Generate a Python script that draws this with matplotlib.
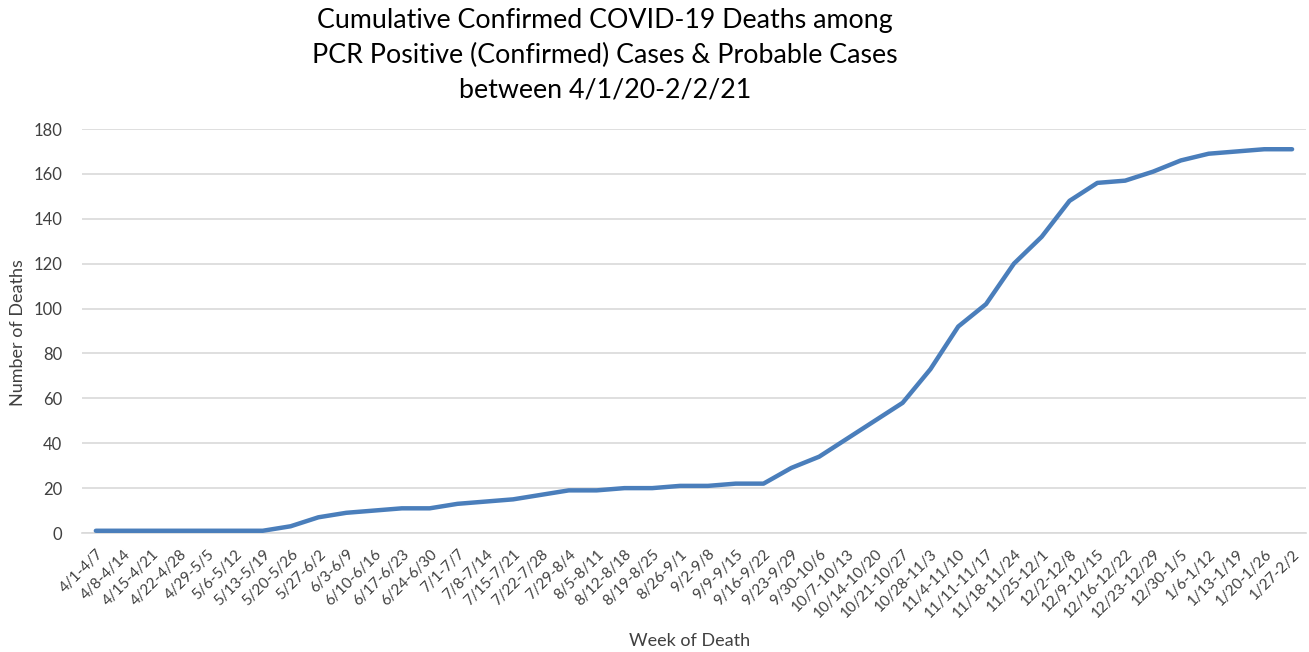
import numpy as np
import matplotlib
matplotlib.use('Agg')
import matplotlib.pyplot as plt

plt.rcParams['font.family'] = ['Lato', 'DejaVu Sans']

# weekly buckets (week of death)
weeks = ['4/1-4/7', '4/8-4/14', '4/15-4/21', '4/22-4/28', '4/29-5/5', '5/6-5/12',
         '5/13-5/19', '5/20-5/26', '5/27-6/2', '6/3-6/9', '6/10-6/16', '6/17-6/23',
         '6/24-6/30', '7/1-7/7', '7/8-7/14', '7/15-7/21', '7/22-7/28', '7/29-8/4',
         '8/5-8/11', '8/12-8/18', '8/19-8/25', '8/26-9/1', '9/2-9/8', '9/9-9/15',
         '9/16-9/22', '9/23-9/29', '9/30-10/6', '10/7-10/13', '10/14-10/20',
         '10/21-10/27', '10/28-11/3', '11/4-11/10', '11/11-11/17', '11/18-11/24',
         '11/25-12/1', '12/2-12/8', '12/9-12/15', '12/16-12/22', '12/23-12/29',
         '12/30-1/5', '1/6-1/12', '1/13-1/19', '1/20-1/26', '1/27-2/2']

# cumulative deaths
deaths = [1, 1, 1, 1, 1, 1, 1, 3, 7, 9, 10, 11, 11, 13, 14, 15, 17, 19, 19,
          20, 20, 21, 21, 22, 22, 29, 34, 42, 50, 58, 73, 92, 102, 120, 132,
          148, 156, 157, 161, 166, 169, 170, 171, 171]

yticks = [0, 20, 40, 60, 80, 100, 120, 140, 160, 180]

fig = plt.figure(figsize=(13.09, 6.52), dpi=100)
ax = fig.add_axes([0.0626, 0.1825, 0.9351, 0.6196])

x = np.arange(len(weeks))
ax.plot(x, deaths, color='#4a7ebb', linewidth=3.2, solid_capstyle='round',
        solid_joinstyle='round', zorder=3)

ax.set_xlim(-0.5, len(weeks) - 0.5)
ax.set_ylim(0, 180)
ax.set_yticks(yticks)
ax.set_xticks(x)
ax.set_xticklabels(weeks, rotation=45, ha='right', rotation_mode='anchor',
                   fontsize=11, color='#404040')
ax.tick_params(axis='y', labelsize=12, colors='#404040', length=0, pad=14)
ax.tick_params(axis='x', length=0, pad=10)

ax.grid(axis='y', color='#d9d9d9', linewidth=1.2)
ax.set_axisbelow(True)
for s in ['top', 'right', 'left']:
    ax.spines[s].set_visible(False)
ax.spines['bottom'].set_color('#d9d9d9')
ax.spines['bottom'].set_linewidth(1.2)

fig.text(0.014, 0.49, 'Number of Deaths', rotation=90, va='center',
         ha='center', fontsize=13, color='#404040')
fig.text(0.527, 0.004, 'Week of Death', ha='center', va='bottom',
         fontsize=13, color='#404040')

fig.text(0.462, 0.988, 'Cumulative Confirmed COVID-19 Deaths among\n'
         'PCR Positive (Confirmed) Cases & Probable Cases\n'
         'between 4/1/20-2/2/21', ha='center', va='top', fontsize=19.3,
         linespacing=1.5, color='#000000')

fig.savefig('out.png', dpi=100, facecolor='white')
